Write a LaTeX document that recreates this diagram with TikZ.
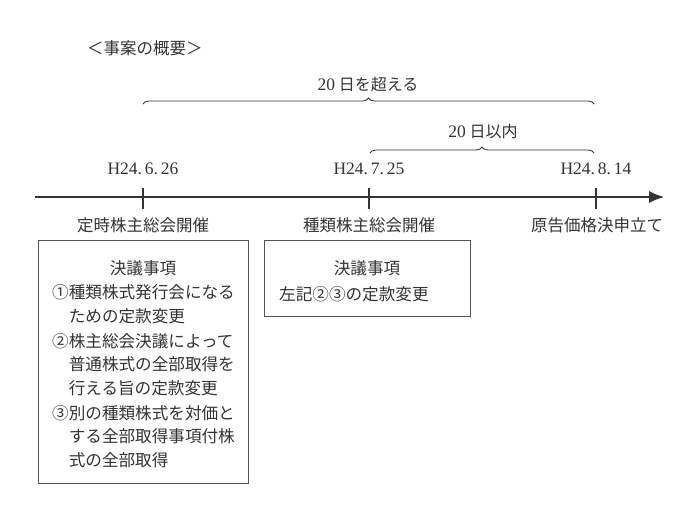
\documentclass[tikz,border=0pt]{standalone}
\usepackage{fontspec}
\setmainfont{Liberation Serif}
\newfontfamily\jp{Noto Sans CJK JP}
\usetikzlibrary{arrows.meta,decorations.pathreplacing}
\definecolor{ink}{HTML}{333333}
\definecolor{edge}{HTML}{555555}
\tikzset{
  txt/.style={font=\jp\fontsize{16.5}{18}\selectfont, text=ink, inner sep=0pt},
  datetxt/.style={font=\fontsize{17.5}{20}\selectfont, text=ink, inner sep=0pt},
  boxtxt/.style={font=\jp\fontsize{16.6}{23.5}\selectfont, text=ink, inner sep=0pt, align=left},
  frame/.style={draw=edge, line width=0.9pt},
  axisline/.style={draw=ink, line width=1.1pt},
  tickline/.style={draw=ink, line width=1.1pt},
  bracepath/.style={draw=ink, line width=0.8pt, decorate},
}
\begin{document}
\begin{tikzpicture}[x=1pt,y=-1pt]
\useasboundingbox (0,0) rectangle (700,509);
% title
\node[txt, anchor=west] (title) at (87,48) {＜事案の概要＞};
% braces
\coordinate (b1s) at (143,104);
\coordinate (b1e) at (594,104);
\draw[bracepath, decoration={brace, amplitude=6pt}] (b1s) -- (b1e);
\node[txt, font=\jp\fontsize{16}{18}\selectfont] (over) at (368,84) {{\rmfamily\fontsize{17.5}{20}\selectfont 20} 日を超える};
\coordinate (b2s) at (370,153);
\coordinate (b2e) at (594,153);
\draw[bracepath, decoration={brace, amplitude=6pt}] (b2s) -- (b2e);
\node[txt, font=\jp\fontsize{16}{18}\selectfont] (within) at (483,131) {{\rmfamily\fontsize{17.5}{20}\selectfont 20} 日以内};
% axis
\coordinate (as) at (35,197);
\coordinate (ae) at (664,197);
\draw[axisline, -{Latex[length=15pt,width=12pt]}] (as) -- (ae);
% ticks
\coordinate (t1) at (143,197);
\coordinate (t2) at (369,197);
\coordinate (t3) at (596,197);
\foreach \t in {t1,t2,t3} {
  \draw[tickline] ([yshift=-12pt]\t) -- ([yshift=9pt]\t);
}
% dates
\node[datetxt] (d1) at (143,169) {H24.\,6.\,26};
\node[datetxt] (d2) at (369,169) {H24.\,7.\,25};
\node[datetxt] (d3) at (596,169) {H24.\,8.\,14};
% labels
\node[txt] (l1) at (143,225) {定時株主総会開催};
\node[txt] (l2) at (369,225) {種類株主総会開催};
\node[txt] (l3) at (597,225) {原告価格決申立て};
% left box
\draw[frame] (38,240) rectangle (248,483);
\node[boxtxt] (k1) at (143,268) {決議事項};
\node[boxtxt, anchor=west] (i1) at (52,304) {①種類株式発行会になる\\\hspace*{1em}ための定款変更};
\node[boxtxt, anchor=west] (i2) at (52,364.5) {②株主総会決議によって\\\hspace*{1em}普通株式の全部取得を\\\hspace*{1em}行える旨の定款変更};
\node[boxtxt, anchor=west] (i3) at (52,436.5) {③別の種類株式を対価と\\\hspace*{1em}する全部取得事項付株\\\hspace*{1em}式の全部取得};
% right box
\draw[frame] (264,240) rectangle (470,316);
\node[boxtxt] (k2) at (367,268) {決議事項};
\node[boxtxt, anchor=west] (r1) at (279,294) {左記②③の定款変更};
\end{tikzpicture}
\end{document}
